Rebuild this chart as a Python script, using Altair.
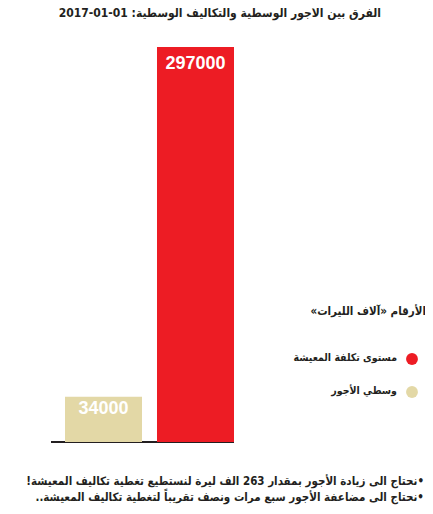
import altair as alt
import pandas as pd

categories = ["وسطي الأجور", "مستوى تكلفة المعيشة"]
values = [34000, 297000]
colors = ["#E3D8A6", "#ED1C24"]
labels = ["34000", "297000"]

LRE, RLE, PDF = "\u202A", "\u202B", "\u202C"

title_text = "الفرق بين الأجور الوسطية والتكاليف الوسطية: " + LRE + "2017-01-01" + PDF
legend_title = "الأرقام «آلاف الليرات»"
note1 = "•نحتاج الى زيادة الأجور بمقدار 263 الف ليرة لنستطيع تغطية تكاليف المعيشة!"
note2 = "•نحتاج الى مضاعفة الأجور سبع مرات ونصف تقريباً لتغطية تكاليف المعيشة.."

def rtl(s):
    return RLE + s + PDF

df = pd.DataFrame({"category": categories, "value": values, "label": labels})

AR_FONT = "DejaVu Sans Condensed"

yscale = alt.Scale(domain=[0, 297000], range=[434, 39], nice=False, zero=True)
xs = alt.X("category:N", sort=categories, axis=None,
           scale=alt.Scale(domain=categories, range=[49.5, 233.5],
                           paddingInner=0.163, paddingOuter=0.0815))
ys = alt.Y("value:Q", axis=None, scale=yscale)

base = alt.Chart(df)

axis_line = base.transform_aggregate(z="min(value)").transform_calculate(z="0").mark_rule(
    color="#231F20", strokeWidth=2
).encode(
    x=alt.value(43), x2=alt.value(226), y=alt.Y("z:Q", axis=None, scale=yscale)
)

bars = base.mark_bar().encode(
    x=xs, y=ys,
    color=alt.Color("category:N", scale=alt.Scale(domain=categories, range=colors), legend=None),
)

lbl_small = base.transform_filter(alt.datum.value < 100000).mark_text(
    baseline="top", dy=3, color="white", fontWeight="bold", fontSize=18, font="Liberation Sans"
).encode(x=xs, y=ys, text="label:N")

lbl_big = base.transform_filter(alt.datum.value >= 100000).mark_text(
    baseline="top", dy=8, color="white", fontWeight="bold", fontSize=18, font="Liberation Sans"
).encode(x=xs, y=ys, text="label:N")

def txt(s, x, y, size, weight="bold", align="right", color="#231F20"):
    return alt.Chart(pd.DataFrame({"t": [rtl(s)]})).mark_text(
        align=align, baseline="middle", fontSize=size, fontWeight=weight,
        font=AR_FONT, color=color
    ).encode(text="t:N", x=alt.value(x), y=alt.value(y))

def dot(color, x, y):
    return alt.Chart(pd.DataFrame({"d": [0]})).mark_circle(
        size=140, color=color, opacity=1
    ).encode(x=alt.value(x), y=alt.value(y))

layers = [
    axis_line, bars, lbl_small, lbl_big,
    txt(title_text, 373, 5, 12),
    txt(legend_title, 418, 304, 11.5),
    dot(colors[1], 404, 351),
    txt(categories[1], 389, 350, 10.5),
    dot(colors[0], 404, 384),
    txt(categories[0], 389, 383, 10.5),
    txt(note1, 416, 474, 11.5),
    txt(note2, 416, 490, 11.5),
]

chart = alt.layer(*layers).properties(
    width=417, height=498, padding=0, autosize=alt.AutoSizeParams(type="none")
).configure_view(stroke=None)

chart.save("out.html", embed_options={"renderer": "svg", "actions": False})
